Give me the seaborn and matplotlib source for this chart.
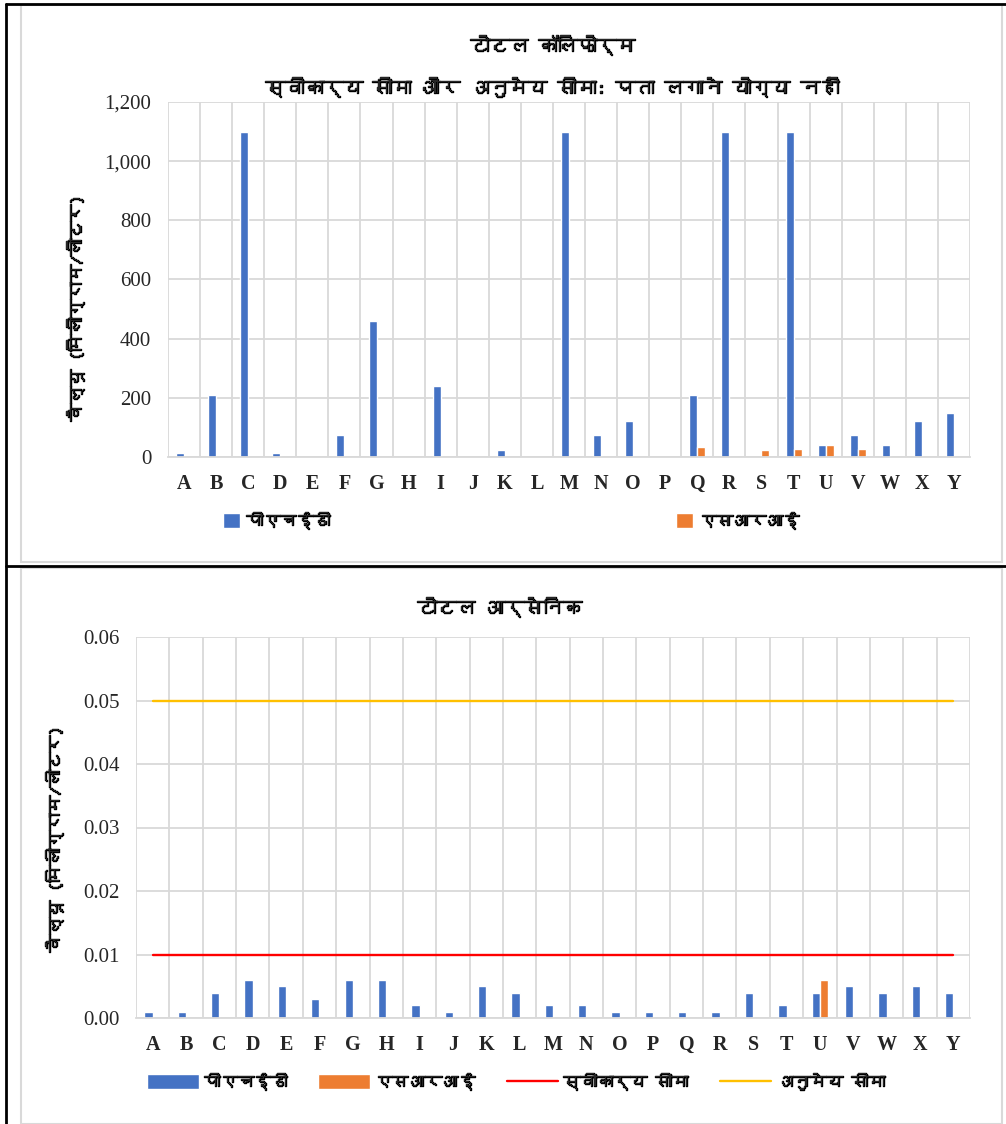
import numpy as np
import pandas as pd
import matplotlib
matplotlib.use("Agg")
import matplotlib.pyplot as plt
import seaborn as sns
import matplotlib.ticker as ticker
import matplotlib.patheffects as pe
from matplotlib.patches import Patch, Rectangle
from matplotlib.lines import Line2D
from matplotlib import font_manager
from matplotlib.ft2font import FT2Font

sites = list("ABCDEFGHIJKLMNOPQRSTUVWXY")
series_names = ["पीएचईडी", "एसआरआई"]

# total coliform
coli_phed = [15, 210, 1100, 15, 0, 75, 460, 0, 240, 0, 22, 0, 1100,
             75, 120, 0, 210, 1100, 0, 1100, 40, 75, 40, 120, 148]
coli_sri = [0, 0, 0, 0, 0, 0, 0, 0, 0, 0, 0, 0, 0,
            0, 0, 0, 35, 0, 22, 28, 40, 26, 0, 0, 0]

# total arsenic
ars_phed = [0.001, 0.001, 0.004, 0.006, 0.005, 0.003, 0.006, 0.006, 0.002,
            0.001, 0.005, 0.004, 0.002, 0.002, 0.001, 0.001, 0.001, 0.001,
            0.004, 0.002, 0.004, 0.005, 0.004, 0.005, 0.004]
ars_sri = [0, 0, 0, 0, 0, 0, 0, 0, 0, 0, 0, 0, 0, 0, 0, 0, 0, 0,
           0, 0, 0.006, 0, 0, 0, 0]
ars_accept = [0.01] * 25
ars_permit = [0.05] * 25

title_coli = "टोटल कॉलिफोर्म"
subtitle_coli = "स्वीकार्य सीमा और अनुमेय सीमा: पता लगाने योग्य नहीं"
title_ars = "टोटल आर्सेनिक"
ylabel = "वैल्यू (मिलीग्राम/लीटर)"
accept_label = "स्वीकार्य सीमा"
permit_label = "अनुमेय सीमा"

BLUE = "#4472C4"
ORANGE = "#ED7D31"
RED = "#FF0000"
YELLOW = "#FFC000"
GRID = "#D9D9D9"

sns.set_style("white")

# look for any installed font that has Devanagari glyphs
deva = []
for f in font_manager.fontManager.ttflist:
    try:
        ft = FT2Font(f.fname)
        if ft.get_char_index(0x0915) and ft.get_char_index(0x093E):
            if f.name not in deva:
                deva.append(f.name)
    except Exception:
        pass
HI_FONT = deva[:1] + ["DejaVu Sans"]
plt.rcParams["font.family"] = HI_FONT
SERIF = ["Liberation Serif", "DejaVu Serif"]
# fake bold for the hindi text
BOLD = [pe.withStroke(linewidth=1.0, foreground="black")]


def long_df(a, b):
    return pd.DataFrame({
        "site": sites * 2,
        "series": [series_names[0]] * len(sites) + [series_names[1]] * len(sites),
        "value": list(a) + list(b),
    })


def style_axes(ax):
    ax.set_xlim(-0.5, len(sites) - 0.5)
    ax.set_xticks(np.arange(-0.5, len(sites), 1.0), minor=True)
    ax.grid(which="minor", axis="x", color=GRID, lw=1.3)
    ax.grid(which="major", axis="y", color=GRID, lw=1.3)
    ax.tick_params(axis="x", which="both", length=0, pad=12)
    ax.tick_params(axis="y", length=0, pad=12)
    for s in ["top", "right", "left"]:
        ax.spines[s].set_visible(False)
    ax.spines["bottom"].set_color(GRID)
    ax.spines["bottom"].set_linewidth(1.3)
    ax.set_axisbelow(True)
    for lab in ax.get_xticklabels():
        lab.set_family(SERIF)
        lab.set_fontweight("bold")
        lab.set_fontsize(14.5)
    for lab in ax.get_yticklabels():
        lab.set_family(SERIF)
        lab.set_fontsize(15)
    ax.set_xlabel("")


def hindi_legend(ax_or_fig, **kw):
    leg = ax_or_fig.legend(frameon=False, prop={"size": 12, "family": HI_FONT},
                           borderpad=0, borderaxespad=0, **kw)
    for t in leg.get_texts():
        t.set_path_effects(BOLD)
    return leg


W, H = 1006, 1124
fig = plt.figure(figsize=(W / 100, H / 100), dpi=100)


def rect(l, t, r, b):
    return [l / W, 1 - b / H, (r - l) / W, (b - t) / H]


# panel frames
fig.add_artist(Rectangle((21 / W, 1 - 562 / H), (1002 - 21) / W, (562 - 5) / H,
                         transform=fig.transFigure, fill=False, ec=GRID, lw=1.5))
fig.add_artist(Rectangle((21 / W, 0), (1002 - 21) / W, (1124 - 568) / H,
                         transform=fig.transFigure, fill=False, ec=GRID, lw=1.5))
for xs, ys in [([6, 6], [4, 1124]), ([6, 1006], [4, 4]), ([6, 1006], [566, 566])]:
    fig.add_artist(Line2D([x / W for x in xs], [1 - y / H for y in ys],
                          transform=fig.transFigure, color="black", lw=2))

# top chart
ax1 = fig.add_axes(rect(168, 102, 970, 457))
sns.barplot(data=long_df(coli_phed, coli_sri), x="site", y="value", hue="series",
            palette=[BLUE, ORANGE], width=0.5, gap=0, saturation=1, ax=ax1,
            legend=False)
ax1.set_ylim(0, 1200)
ax1.yaxis.set_major_locator(ticker.MultipleLocator(200))
ax1.yaxis.set_major_formatter(ticker.StrMethodFormatter("{x:,.0f}"))
style_axes(ax1)
ax1.set_ylabel(ylabel, fontsize=12.5, path_effects=BOLD)
ax1.yaxis.set_label_coords(-0.105, 0.42)
fig.text(553 / W, 1 - 45 / H, title_coli, ha="center", va="center",
         fontsize=14, path_effects=BOLD)
fig.text(553 / W, 1 - 87 / H, subtitle_coli, ha="center", va="center",
         fontsize=14, path_effects=BOLD)

l1 = hindi_legend(fig, handles=[Patch(fc=BLUE, label=series_names[0])],
                  loc="center left", bbox_to_anchor=(223 / W, 1 - 520 / H),
                  handlelength=1.0, handleheight=1.0, handletextpad=0.4)
l2 = hindi_legend(fig, handles=[Patch(fc=ORANGE, label=series_names[1])],
                  loc="center left", bbox_to_anchor=(676 / W, 1 - 520 / H),
                  handlelength=1.0, handleheight=1.0, handletextpad=0.4)

# bottom chart
ax2 = fig.add_axes(rect(136, 637, 970, 1018))
sns.barplot(data=long_df(ars_phed, ars_sri), x="site", y="value", hue="series",
            palette=[BLUE, ORANGE], width=0.5, gap=0, saturation=1, ax=ax2,
            legend=False)
lim_df = pd.DataFrame({"site": sites, "accept": ars_accept, "permit": ars_permit})
sns.lineplot(data=lim_df, x="site", y="accept", color=RED, lw=1.7, ax=ax2)
sns.lineplot(data=lim_df, x="site", y="permit", color=YELLOW, lw=1.7, ax=ax2)
ax2.set_ylim(0, 0.06)
ax2.yaxis.set_major_locator(ticker.MultipleLocator(0.01))
ax2.yaxis.set_major_formatter(ticker.StrMethodFormatter("{x:.2f}"))
style_axes(ax2)
ax2.set_ylabel(ylabel, fontsize=12.5, path_effects=BOLD)
ax2.yaxis.set_label_coords(-0.088, 0.47)
fig.text(500 / W, 1 - 607 / H, title_ars, ha="center", va="center",
         fontsize=14, path_effects=BOLD)

handles2 = [Patch(fc=BLUE, label=series_names[0]),
            Patch(fc=ORANGE, label=series_names[1]),
            Line2D([], [], color=RED, lw=1.7, label=accept_label),
            Line2D([], [], color=YELLOW, lw=1.7, label=permit_label)]
hindi_legend(fig, handles=handles2, loc="center left",
             bbox_to_anchor=(147 / W, 1 - 1081 / H), ncol=4,
             handlelength=3.1, handleheight=1.05, handletextpad=0.3,
             columnspacing=1.9)

fig.savefig("out.png", dpi=100, facecolor="white")
